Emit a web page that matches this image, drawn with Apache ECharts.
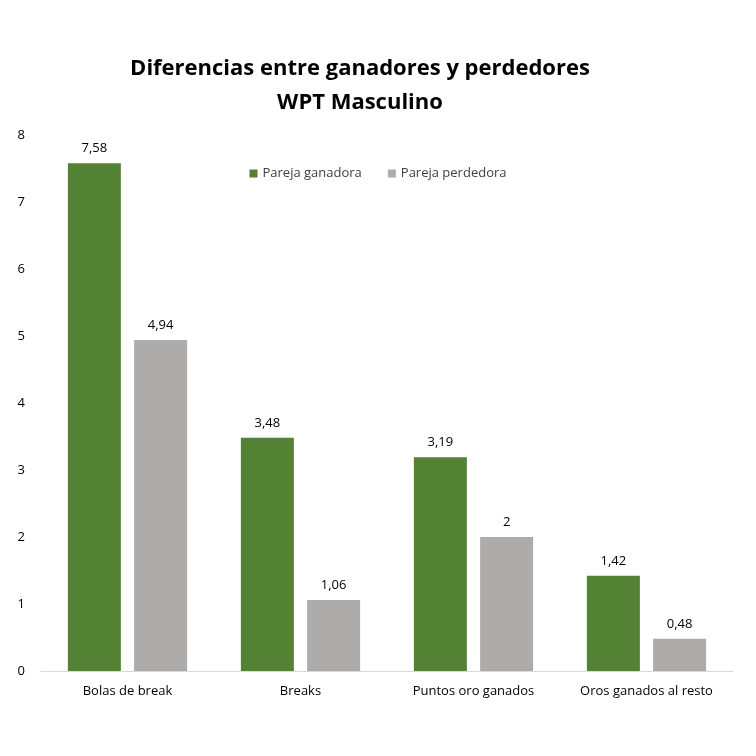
<!DOCTYPE html>
<html>
<head>
	<meta charset="utf-8">
	<title>Diferencias WPT</title>
	<style type="text/css">
		body{ margin: 0px; background: #fff; }
		.chart{ width: 756px; height: 756px; }
	</style>
	<script type="text/javascript" src="https://cdn.jsdelivr.net/npm/echarts@6/dist/echarts.min.js"></script>
</head>
<body>
	<div id="chart" class="chart"></div>
	<script type="text/javascript">
		var categories = ['Bolas de break', 'Breaks', 'Puntos oro ganados', 'Oros ganados al resto'];
		var ganadora = [7.58, 3.48, 3.19, 1.42];
		var perdedora = [4.94, 1.06, 2, 0.48];
		var yTicks = [0, 1, 2, 3, 4, 5, 6, 7, 8];

		var font = '"Open Sans", "Liberation Sans", sans-serif';
		function fmt(p){
			return String(p.value).replace('.', ',');
		}

		var chart = echarts.init(document.getElementById('chart'));
		chart.setOption({
			animation: false,
			backgroundColor: '#ffffff',
			title: {
				text: 'Diferencias entre ganadores y perdedores\nWPT Masculino',
				left: 355,
				textAlign: 'center',
				top: 47,
				textStyle: {
					fontFamily: font,
					fontWeight: 'bold',
					fontSize: 22,
					lineHeight: 34,
					color: '#000'
				}
			},
			legend: {
				data: ['Pareja ganadora', 'Pareja perdedora'],
				top: 162,
				left: 'center',
				itemWidth: 8,
				itemHeight: 8,
				itemGap: 26,
				icon: 'rect',
				textStyle: { fontFamily: font, fontSize: 13, color: '#404040' }
			},
			grid: {
				left: 41,
				right: 23,
				top: 135,
				bottom: 85,
				containLabel: false
			},
			xAxis: {
				type: 'category',
				data: categories,
				axisLine: { lineStyle: { color: '#d9d9d9', width: 1 } },
				axisTick: { show: false },
				axisLabel: { fontFamily: font, fontSize: 13, color: '#000', margin: 14 }
			},
			yAxis: {
				type: 'value',
				min: yTicks[0],
				max: yTicks[yTicks.length - 1],
				interval: 1,
				axisLine: { show: false },
				axisTick: { show: false },
				splitLine: { show: false },
				axisLabel: { fontFamily: font, fontSize: 13, color: '#000', margin: 16 }
			},
			series: [{
				name: 'Pareja ganadora',
				type: 'bar',
				data: ganadora,
				barWidth: 53,
				barGap: '25%',
				itemStyle: { color: '#548235' },
				label: { show: true, position: 'top', distance: 8, formatter: fmt, fontFamily: font, fontSize: 13, color: '#000' }
			}, {
				name: 'Pareja perdedora',
				type: 'bar',
				data: perdedora,
				barWidth: 53,
				itemStyle: { color: '#aeabab' },
				label: { show: true, position: 'top', distance: 8, formatter: fmt, fontFamily: font, fontSize: 13, color: '#000' }
			}]
		});
	</script>
</body>
</html>
